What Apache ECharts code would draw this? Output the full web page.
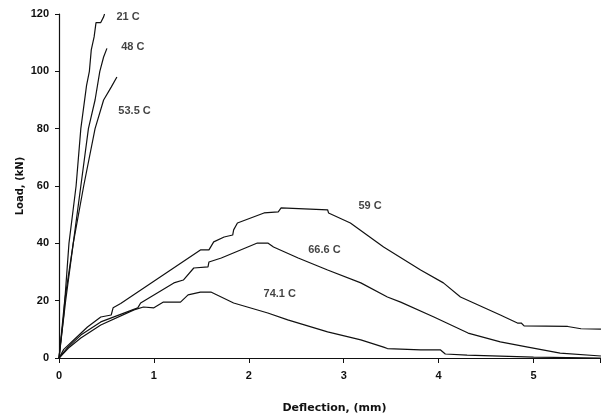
<!DOCTYPE html>
<html>
<head>
<meta charset="utf-8">
<script src="https://cdn.jsdelivr.net/npm/echarts@6/dist/echarts.min.js"></script>
<style>html,body{margin:0;padding:0;background:#fff}#c{width:605px;height:419px}</style>
</head>
<body>
<div id="c"></div>
<script>
const xTicks = [0, 1, 2, 3, 4, 5];
const yTicks = [0, 20, 40, 60, 80, 100, 120];
const seriesNames = ['21 C', '48 C', '53.5 C', '59 C', '66.6 C', '74.1 C'];

const s21 = [[0,0],[0.05,15],[0.105,40],[0.18,60],[0.23,80],[0.29,95],[0.32,100],[0.34,107.5],[0.37,112],[0.39,117],[0.44,117],[0.46,117.5],[0.47,119],[0.48,120]];
const s48 = [[0,0],[0.06,20],[0.15,40],[0.23,60],[0.31,80],[0.38,90],[0.43,100],[0.47,105],[0.505,108]];
const s535 = [[0,0],[0.07,20],[0.15,40],[0.26,60],[0.38,80],[0.47,90],[0.55,94.5],[0.61,98]];
const s59 = [[0,0],[0.05,3],[0.13,5.5],[0.3,10.8],[0.44,14.3],[0.55,15],[0.57,17.5],[0.65,19],[1.49,37.7],[1.58,37.7],[1.63,40.5],[1.74,42.2],[1.83,42.9],[1.84,44.7],[1.88,47.1],[2.16,50.6],[2.31,51],[2.34,52.4],[2.83,51.7],[2.84,50.6],[3.07,47.1],[3.42,38.7],[3.81,30.7],[4.05,26.2],[4.23,21.3],[4.65,15],[4.83,12.2],[4.87,12.2],[4.9,11.2],[5.36,11.0],[5.5,10.2],[5.71,10.1]];
const s666 = [[0,0],[0.095,3.8],[0.23,8],[0.44,12.6],[0.83,17.5],[0.86,19.2],[1.21,26.2],[1.31,27.2],[1.42,31.4],[1.57,31.8],[1.58,33.5],[1.71,34.9],[2.09,40.1],[2.2,40.1],[2.26,38.7],[2.52,34.9],[2.83,30.7],[3.18,26.2],[3.46,21.3],[3.6,19.5],[3.95,14.3],[4.31,8.7],[4.65,5.6],[4.94,3.8],[5.28,1.7],[5.71,0.7]];
const s741 = [[0,0],[0.1,3.5],[0.23,7],[0.44,11.5],[0.79,16.8],[0.89,17.8],[1.0,17.5],[1.1,19.5],[1.28,19.5],[1.36,22],[1.49,23],[1.6,23],[1.84,19.2],[2.2,15.7],[2.41,13.3],[2.83,9.1],[3.18,6.3],[3.42,3.8],[3.46,3.3],[3.81,2.8],[4.02,2.8],[4.07,1.4],[4.3,1.0],[5.0,0.3],[5.71,0]];
const allSeries = [s21, s48, s535, s59, s666, s741];

// annotation anchor points in data units (left-middle of each label)
const labelAnchors = [[0.6,119],[0.65,108.5],[0.62,86],[3.15,53],[2.62,37.7],[2.15,22.3]];

const chart = echarts.init(document.getElementById('c'), null, {renderer: 'canvas'});
const font = 'Liberation Sans';
const lineSeries = allSeries.map((d, i) => ({
  name: seriesNames[i],
  type: 'line',
  data: d,
  symbol: 'none',
  lineStyle: {color: '#111', width: 1.2},
  animation: false
}));
const labelSeries = {
  type: 'scatter',
  data: labelAnchors.map((p, i) => ({value: p, name: seriesNames[i]})),
  symbolSize: 1,
  itemStyle: {color: 'rgba(0,0,0,0)'},
  label: {
    show: true, position: 'right', distance: 0,
    formatter: p => p.name,
    fontFamily: font, fontWeight: 'bold', fontSize: 11, color: '#111'
  },
  silent: true,
  animation: false
};
chart.setOption({
  backgroundColor: '#fff',
  animation: false,
  grid: {left: 59, right: 5, top: 14, bottom: 61},
  xAxis: {
    type: 'value', min: 0, max: 5.7, interval: 1,
    name: 'Deflection, (mm)', nameLocation: 'middle', nameGap: 45, nameMoveOverlap: false,
    nameTextStyle: {fontFamily: 'DejaVu Sans', fontWeight: 'bold', fontSize: 11, color: '#111', padding: [0, 0, 0, 10]},
    axisLine: {show: true, lineStyle: {color: '#111', width: 1.2}},
    axisTick: {show: true, length: 5, lineStyle: {color: '#111'}},
    axisLabel: {fontFamily: font, fontWeight: 'bold', fontSize: 11, color: '#111', margin: 12,
      formatter: v => xTicks.includes(v) ? String(v) : ''},
    splitLine: {show: false}
  },
  yAxis: {
    type: 'value', min: 0, max: 120, interval: 20,
    name: 'Load, (kN)', nameLocation: 'middle', nameGap: 34, nameMoveOverlap: false,
    nameTextStyle: {fontFamily: 'DejaVu Sans', fontWeight: 'bold', fontSize: 10, color: '#111'},
    axisLine: {show: true, lineStyle: {color: '#111', width: 1.2}},
    axisTick: {show: true, length: 4, lineStyle: {color: '#111'}},
    axisLabel: {fontFamily: font, fontWeight: 'bold', fontSize: 11, color: '#111', margin: 10,
      formatter: v => yTicks.includes(v) ? String(v) : ''},
    splitLine: {show: false}
  },
  series: [...lineSeries, labelSeries]
});
</script>
</body>
</html>
